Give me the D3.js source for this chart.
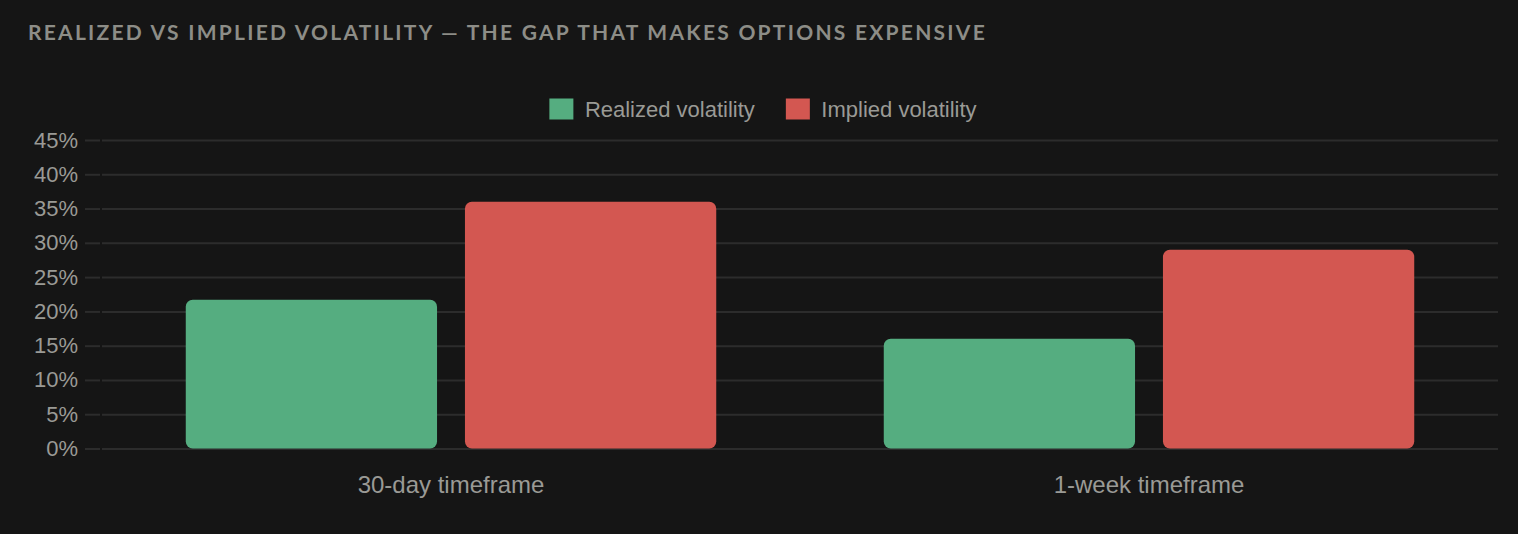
<!DOCTYPE html>
<html>
<head>
<meta charset="utf-8">
<script src="https://cdn.jsdelivr.net/npm/d3@7"></script>
<style>
  html, body { margin: 0; padding: 0; background: #151515; }
  svg { display: block; }
</style>
</head>
<body>
<svg id="chart" width="1518" height="534"></svg>
<script>
const title = "REALIZED VS IMPLIED VOLATILITY — THE GAP THAT MAKES OPTIONS EXPENSIVE";
const categories = ["30-day timeframe", "1-week timeframe"];
const seriesNames = ["Realized volatility", "Implied volatility"];
const realized = [21.7, 16];
const implied = [36, 29];
const yTicks = [0, 5, 10, 15, 20, 25, 30, 35, 40, 45];
const colors = ["#55ad80", "#d35751"];

(function () {
const W = 1518, H = 534;
const pLeft = 102, pRight = 1498, pTop = 140, pBottom = 448.5;
const svg = d3.select("#chart");
svg.append("rect").attr("width", W).attr("height", H).attr("fill", "#151515");

const y = d3.scaleLinear().domain([0, 45]).range([pBottom, pTop]);
const x = d3.scaleBand().domain(categories).range([pLeft, pRight]).paddingInner(0.2).paddingOuter(0.1);
const xs = d3.scaleBand().domain(seriesNames).range([0, x.bandwidth()]).paddingInner(0.1).paddingOuter(0.05);
const color = d3.scaleOrdinal().domain(seriesNames).range(colors);

// Title
const titleEl = svg.append("text")
  .attr("x", 28).attr("y", 40)
  .attr("fill", "#8d8d87")
  .style("font-family", "Lato, 'Noto Sans', sans-serif")
  .style("font-weight", "700")
  .style("font-size", "21px")
  .style("letter-spacing", "0px")
  .text(title);
const natural = titleEl.node().getComputedTextLength();
const ls = Math.max(0, (959 - natural) / title.length);
titleEl.style("letter-spacing", ls + "px");

// Grid
const grid = svg.append("g").attr("transform", `translate(${pLeft},0)`)
  .call(d3.axisLeft(y).tickValues(yTicks).tickSize(-(pRight - pLeft)).tickFormat(""));
grid.select(".domain").remove();
grid.selectAll(".tick line").attr("stroke", "#2c2c2c").attr("stroke-width", 2);

// Y axis ticks and labels
const yAxis = svg.append("g").attr("transform", `translate(100,0)`)
  .call(d3.axisLeft(y).tickValues(yTicks).tickSize(15).tickPadding(7).tickFormat(d => d + "%"));
yAxis.select(".domain").remove();
yAxis.selectAll(".tick line").attr("stroke", "#2c2c2c").attr("stroke-width", 2);
yAxis.selectAll(".tick text")
  .attr("fill", "#9a9a95")
  .style("font-family", "'Liberation Sans', Arial, sans-serif")
  .style("font-size", "22px");

// X axis labels
const xAxis = svg.append("g").attr("transform", `translate(0,${pBottom})`)
  .call(d3.axisBottom(x).tickSize(0).tickPadding(0));
xAxis.select(".domain").remove();
xAxis.selectAll(".tick text")
  .attr("y", 44.5).attr("dy", null)
  .attr("fill", "#9a9a95")
  .style("font-family", "'Liberation Sans', Arial, sans-serif")
  .style("font-size", "24px");

// Bars
const rows = categories.map((c, i) => ({ cat: c, values: [realized[i], implied[i]] }));
const groups = svg.append("g").selectAll("g").data(rows).join("g")
  .attr("transform", d => `translate(${x(d.cat)},0)`);
groups.selectAll("rect")
  .data(d => d.values.map((v, j) => ({ name: seriesNames[j], v })))
  .join("rect")
  .attr("x", d => xs(d.name))
  .attr("width", xs.bandwidth())
  .attr("y", d => y(d.v))
  .attr("height", d => y(0) - y(d.v))
  .attr("rx", 7).attr("ry", 7)
  .attr("fill", d => color(d.name));

// Legend
const legend = svg.append("g");
const boxW = 24, boxH = 21, boxGap = 11.5, itemGap = 31, legendCy = 109;
const items = legend.selectAll("g").data(seriesNames).join("g");
items.append("rect").attr("width", boxW).attr("height", boxH)
  .attr("y", legendCy - boxH / 2).attr("fill", d => color(d));
items.append("text")
  .attr("x", boxW + boxGap).attr("y", legendCy + 8)
  .attr("fill", "#9a9a95")
  .style("font-family", "'Liberation Sans', Arial, sans-serif")
  .style("font-size", "22px")
  .text(d => d);
const widths = [];
items.each(function () { widths.push(boxW + boxGap + this.querySelector("text").getComputedTextLength()); });
const total = d3.sum(widths) + itemGap * (widths.length - 1);
let cx = 763 - total / 2;
items.attr("transform", (d, i) => { const tx = cx; cx += widths[i] + itemGap; return `translate(${tx},0)`; });
})();
</script>
</body>
</html>
